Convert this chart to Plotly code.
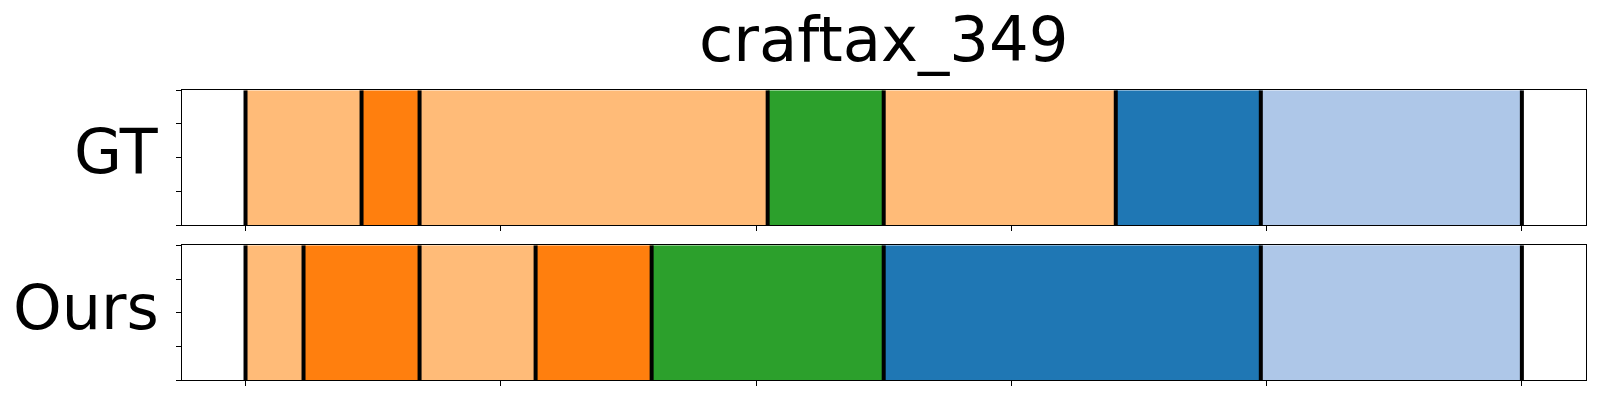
import numpy as np
import plotly.graph_objects as go

# ---- data ----
title_text = "craftax_349"
row_labels = ["GT", "Ours"]
n_frames = 44

gt_starts = [0, 4, 6, 18, 22, 30, 35]
gt_ends = [4, 6, 18, 22, 30, 35, 44]
gt_colors = ["#ffbb78", "#ff7f0e", "#ffbb78", "#2ca02c", "#ffbb78", "#1f77b4", "#aec7e8"]

ours_starts = [0, 2, 6, 10, 14, 22, 35]
ours_ends = [2, 6, 10, 14, 22, 35, 44]
ours_colors = ["#ffbb78", "#ff7f0e", "#ffbb78", "#ff7f0e", "#2ca02c", "#1f77b4", "#aec7e8"]

x_ticks = list(np.linspace(0, n_frames, 6))
y_ticks = [0, 0.25, 0.5, 0.75, 1.0]

W, H = 1600, 400
left_px, right_px = 181.7, 1585.7
panels_px = [(90.3, 225.0), (245.3, 380.3)]

fig = go.Figure()

rows = [(gt_starts, gt_ends, gt_colors), (ours_starts, ours_ends, ours_colors)]
for i, (starts, ends, colors) in enumerate(rows):
    xa = "x" if i == 0 else "x2"
    ya = "y" if i == 0 else "y2"
    lengths = [e - s for s, e in zip(starts, ends)]
    fig.add_trace(go.Bar(
        x=lengths, base=starts, y=[0.5] * len(starts), width=1.0,
        orientation="h", marker=dict(color=colors, line=dict(width=0)),
        xaxis=xa, yaxis=ya, showlegend=False, hoverinfo="skip",
    ))
    bounds = sorted(set(starts) | set(ends))
    for b in bounds:
        fig.add_trace(go.Scatter(
            x=[b, b], y=[0, 1], mode="lines",
            line=dict(color="black", width=4),
            xaxis=xa, yaxis=ya, showlegend=False, hoverinfo="skip",
            cliponaxis=False,
        ))

x_dom = [left_px / W, right_px / W]
margin = 0.05 * n_frames
axis_common = dict(
    showline=True, mirror=True, linecolor="black", linewidth=1.1,
    ticks="outside", ticklen=5, tickwidth=1.1, tickcolor="black",
    showticklabels=False, showgrid=False, zeroline=False,
)
layout = dict(
    width=W, height=H, margin=dict(l=0, r=0, t=0, b=0),
    plot_bgcolor="white", paper_bgcolor="white", barmode="overlay",
)
for i, (top, bot) in enumerate(panels_px):
    sfx = "" if i == 0 else "2"
    layout["xaxis" + sfx] = dict(
        domain=x_dom, range=[-margin, n_frames + margin], tickvals=x_ticks,
        anchor="y" + sfx, **axis_common)
    layout["yaxis" + sfx] = dict(
        domain=[1 - bot / H, 1 - top / H], range=[0, 1], tickvals=y_ticks,
        anchor="x" + sfx, **axis_common)
fig.update_layout(**layout)

title_font = dict(family="DejaVu Sans", size=62.5, color="black")
label_font = dict(family="DejaVu Sans", size=62, color="black")
annotations = [dict(
    text=title_text, x=(left_px + right_px) / 2 / W, y=1 - 39.8 / H,
    xref="paper", yref="paper", xanchor="center", yanchor="middle",
    showarrow=False, font=title_font)]
label_centers = [151.3, 307.8]
for lab, cy in zip(row_labels, label_centers):
    annotations.append(dict(
        text=lab, x=161 / W, y=1 - cy / H, xref="paper", yref="paper",
        xanchor="right", yanchor="middle", showarrow=False, font=label_font))
fig.update_layout(annotations=annotations)

fig.write_html(
    "out.html",
    config={"displayModeBar": False},
    post_script="document.body.style.margin='0px';"
                "document.body.style.overflow='hidden';",
)
